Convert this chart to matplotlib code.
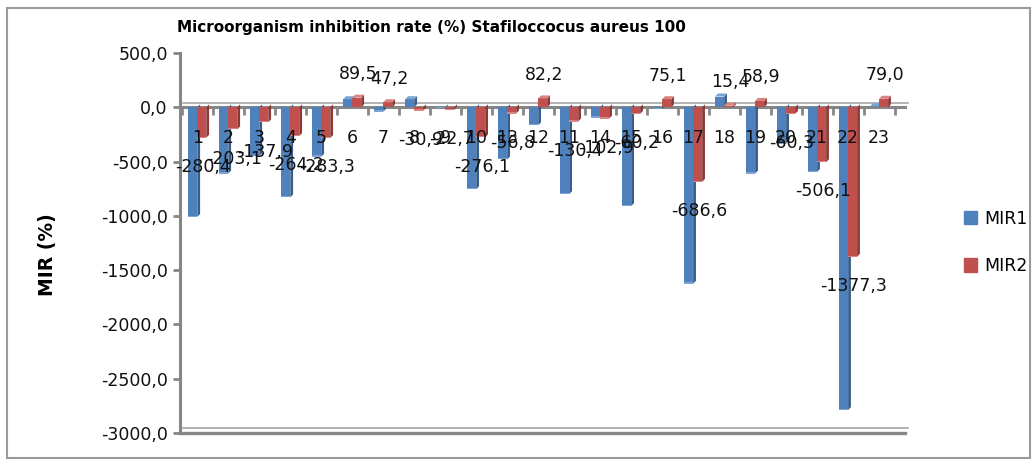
import matplotlib.pyplot as plt
import numpy as np
from matplotlib.patches import Polygon, Rectangle, Patch
from matplotlib.ticker import FuncFormatter, FixedLocator

# Samples as they appear along the axis
samples = ['1', '2', '3', '4', '5', '6', '7', '8', '9', '10', '13', '12', '11',
           '14', '15', '16', '17', '18', '19', '20', '21', '22', '23']
mir1 = [-1010, -610, -450, -830, -455, 75, -40, 75, -10, -755, -480, -165, -800,
        -95, -910, -15, -1625, 100, -610, -335, -595, -2790, 10]
mir2 = [-280.4, -203.1, -137.9, -264.2, -283.3, 89.5, 47.2, -30.9, -22.7, -276.1,
        -56.8, 82.2, -130.4, -102.9, -60.2, 75.1, -686.6, 15.4, 58.9, -60.3,
        -506.1, -1377.3, 79.0]

blue, blue_side, blue_top = '#4F81BD', '#385D8A', '#7FA3D0'
red, red_side, red_top = '#C0504D', '#8C3836', '#D98482'
grey = '#868686'

fig = plt.figure(figsize=(10.36, 4.66), dpi=100)
ax = fig.add_axes([0.174, 0.071, 0.700, 0.815])

x = np.arange(len(samples))
w = 0.29
dx, dy = 0.09, 28  # depth of the pseudo-3D faces (category units, data units)


def bars_3d(xpos, vals, front, side, top, z):
    bars = ax.bar(xpos, vals, width=w, color=front, zorder=z + 0.2, linewidth=0)
    for b in bars:
        x0, bw, v = b.get_x(), b.get_width(), b.get_height()
        x1 = x0 + bw
        ax.add_patch(Polygon([(x1, 0), (x1 + dx, dy), (x1 + dx, v + dy), (x1, v)],
                             closed=True, color=side, lw=0, zorder=z))
        if v > 0:
            ax.add_patch(Polygon([(x0, v), (x0 + dx, v + dy), (x1 + dx, v + dy), (x1, v)],
                                 closed=True, color=top, lw=0, zorder=z + 0.3))
        else:
            ax.add_patch(Rectangle((x0, v), bw, 12, color=top, lw=0, zorder=z + 0.3))
    return bars


bars_3d(x - w / 2, mir1, blue, blue_side, blue_top, 2)
red_bars = bars_3d(x + w / 2, mir2, red, red_side, red_top, 3)

# category names just under the zero line, drawn over the bars
for xi, name in zip(x, samples):
    ax.annotate(name, (xi, 0), xytext=(0, -22), textcoords='offset points',
                ha='center', va='center', fontsize=12.5, color='#111111', zorder=6)

# value labels for MIR2
for b, v in zip(red_bars, mir2):
    cx = b.get_x() + b.get_width() / 2 + dx / 2
    off = 17 if v > 0 else -21
    ax.annotate(f'{v:.1f}'.replace('.', ','), (cx, v), xytext=(0, off),
                textcoords='offset points', ha='center', va='center',
                fontsize=12.5, color='#111111', zorder=6)

ax.set_xlim(-0.55, len(samples) - 0.15)
ax.set_ylim(-3000, 500)
ax.set_yticks(np.arange(-3000, 501, 500))
ax.yaxis.set_major_formatter(FuncFormatter(lambda v, p: f'{v:.1f}'.replace('.', ',')))
ax.tick_params(axis='y', labelsize=12.5, colors=grey, labelcolor='#111111',
               length=5, width=2, pad=4)

# category axis sits at zero; ticks on the boundaries between samples
ax.spines['bottom'].set_position(('data', 0))
ax.xaxis.set_major_locator(FixedLocator(np.arange(-0.5, len(samples), 1.0)))
ax.set_xticklabels([])
ax.tick_params(axis='x', which='major', length=6, width=2, colors=grey)

for s in ['top', 'right']:
    ax.spines[s].set_visible(False)
ax.spines['left'].set_color(grey)
ax.spines['left'].set_linewidth(2.2)
ax.spines['bottom'].set_color(grey)
ax.spines['bottom'].set_linewidth(2.2)
ax.spines['bottom'].set_zorder(1)

# floor edges
ax.plot([-0.55 + dx, len(samples) - 0.15 + dx], [dy * 1.4, dy * 1.4],
        color='#A6A6A6', lw=1.2, zorder=1, clip_on=False)
ax.plot([-0.55, len(samples) - 0.15], [-3000, -3000], color=grey, lw=2.4,
        zorder=1, clip_on=False)
ax.plot([-0.55 + dx, len(samples) - 0.15 + dx], [-3000 + dy * 1.6, -3000 + dy * 1.6],
        color='#A6A6A6', lw=1.2, zorder=1, clip_on=False)

ax.set_ylabel('MIR (%)', fontsize=13.5, fontweight='bold')
ax.yaxis.set_label_coords(-0.17, 0.47)

fig.text(0.416, 0.942, 'Microorganism inhibition rate (%) Stafiloccocus aureus 100',
         ha='center', va='center', fontsize=11, fontweight='bold')

handles = [Patch(color=blue), Patch(color=red)]
fig.legend(handles, ['MIR1', 'MIR2'], loc='center left', bbox_to_anchor=(0.915, 0.48),
           frameon=False, fontsize=12.5, handlelength=0.8, handleheight=0.8,
           handletextpad=0.4, labelspacing=1.7)

fig.add_artist(Rectangle((0.007, 0.017), 0.987, 0.966, transform=fig.transFigure,
                         fill=False, edgecolor='#9A9A9A', lw=1.5))

fig.savefig('out.png', dpi=100)
